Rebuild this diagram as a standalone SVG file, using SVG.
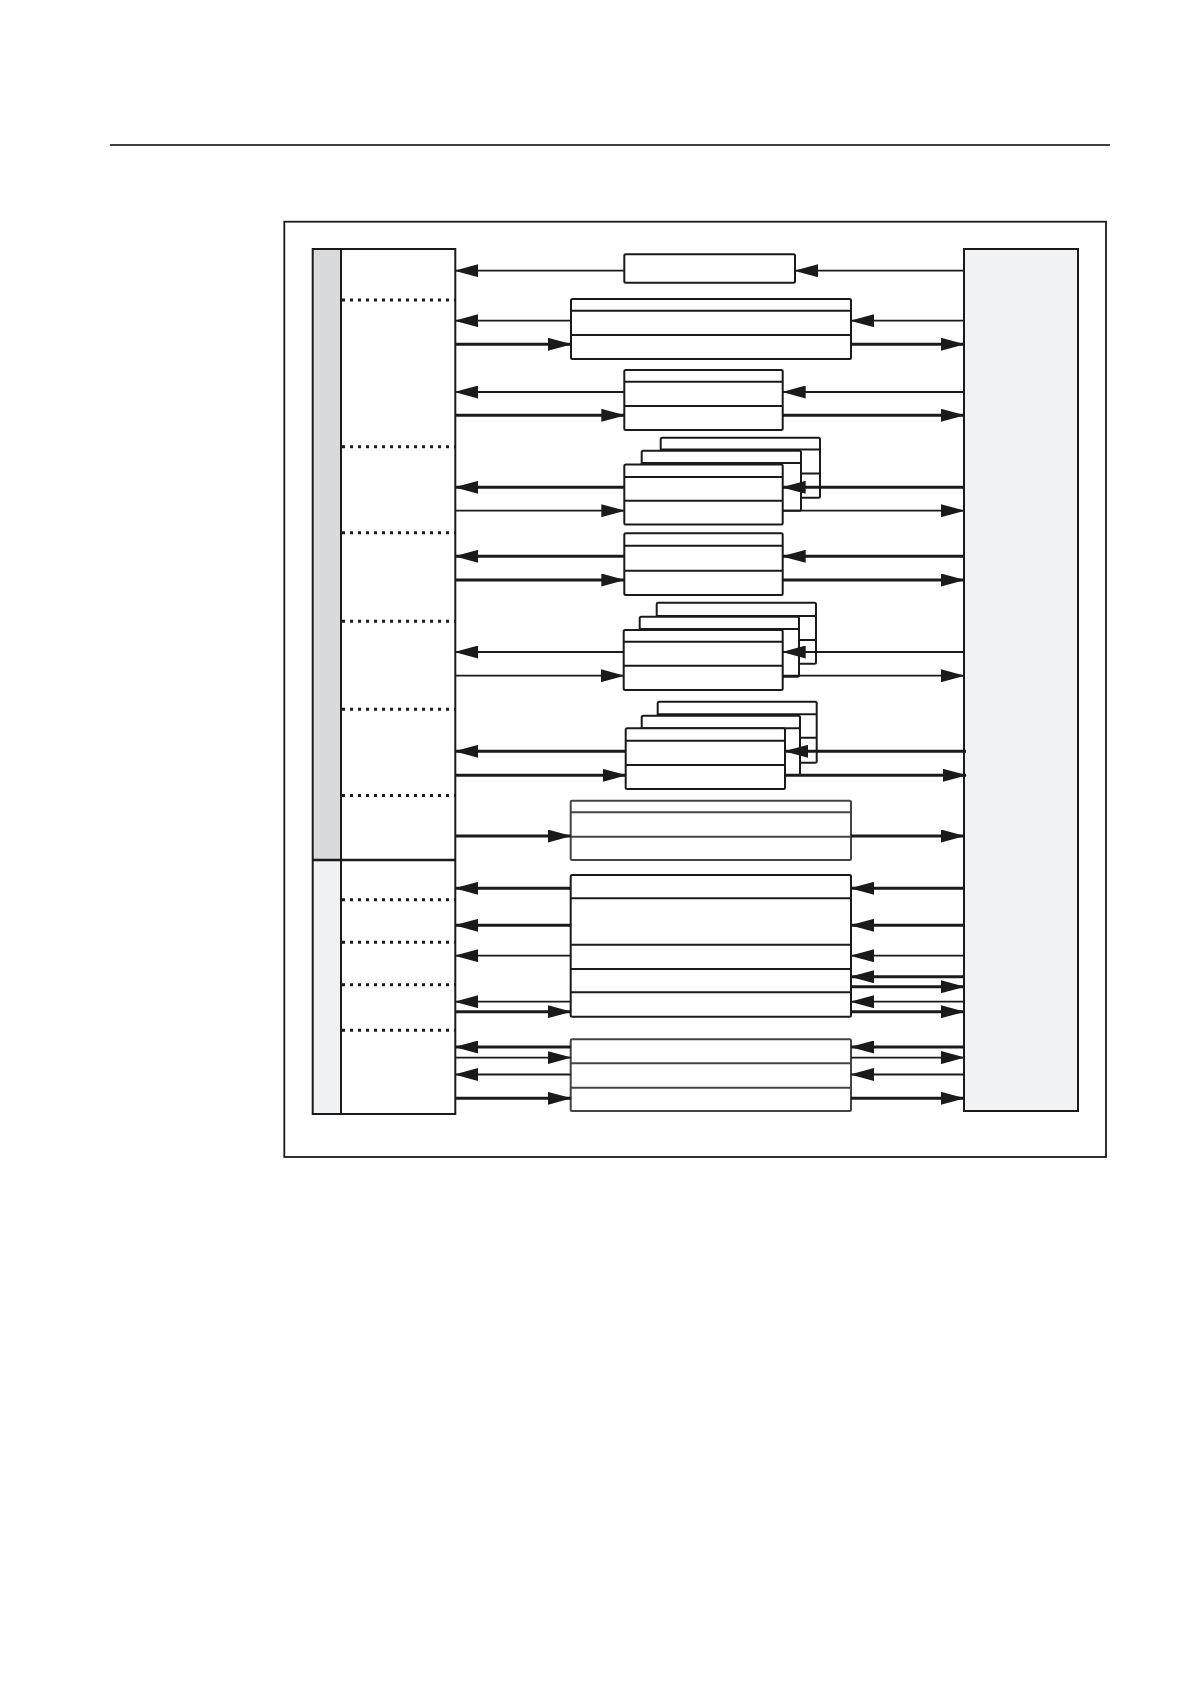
<svg xmlns="http://www.w3.org/2000/svg" width="1190" height="1684" viewBox="0 0 1190 1684">
<defs>
<marker id="ah" markerUnits="userSpaceOnUse" markerWidth="24" markerHeight="13" refX="23" refY="6.5" orient="auto">
<path d="M0,0 L24,6.5 L0,13 z" fill="#1a1a1a"/>
</marker>
</defs>
<style>
.box{fill:#fff;stroke:#1a1a1a;stroke-width:2}
.boxg{fill:#fff;stroke:#444;stroke-width:2}
.rl{stroke:#1a1a1a;stroke-width:2}
.rg{stroke:#444;stroke-width:2}
.dot{stroke:#1a1a1a;stroke-width:3;stroke-dasharray:3 5}
.thin{stroke:#1a1a1a;stroke-width:1.8;marker-end:url(#ah)}
.thick{stroke:#1a1a1a;stroke-width:3;marker-end:url(#ah)}
.frame{fill:none;stroke:#1a1a1a;stroke-width:1.8}
</style>
<rect width="1190" height="1684" fill="#fff"/>
<line x1="110" y1="145" x2="1110" y2="145" stroke="#000" stroke-width="1.6"/>
<rect id="outer" class="frame" x="284.3" y="221.7" width="821.7" height="935.3"/>

<g id="left-column">
<rect x="312.7" y="249" width="28.3" height="611" fill="#d9dadb"/>
<rect x="312.7" y="860" width="28.3" height="254" fill="#eff1f3"/>
<rect x="341" y="249" width="114.3" height="865" fill="#fff"/>
<rect x="312.7" y="249" width="142.6" height="865" fill="none" stroke="#1a1a1a" stroke-width="2"/>
<line x1="341" y1="249" x2="341" y2="1114" stroke="#1a1a1a" stroke-width="2"/>
<line x1="312.7" y1="860" x2="455.3" y2="860" stroke="#1a1a1a" stroke-width="2.4"/>
<line class="dot" x1="342" y1="300" x2="455" y2="300"/>
<line class="dot" x1="342" y1="446.7" x2="455" y2="446.7"/>
<line class="dot" x1="342" y1="532.7" x2="455" y2="532.7"/>
<line class="dot" x1="342" y1="621.3" x2="455" y2="621.3"/>
<line class="dot" x1="342" y1="709.3" x2="455" y2="709.3"/>
<line class="dot" x1="342" y1="795.5" x2="455" y2="795.5"/>
<line class="dot" x1="342" y1="899.7" x2="455" y2="899.7"/>
<line class="dot" x1="342" y1="942.3" x2="455" y2="942.3"/>
<line class="dot" x1="342" y1="984.7" x2="455" y2="984.7"/>
<line class="dot" x1="342" y1="1030.3" x2="455" y2="1030.3"/>
</g>

<g id="right-column">
<rect x="964" y="249" width="114" height="862" fill="#f0f2f4" stroke="#1a1a1a" stroke-width="2"/>
</g>

<g id="box1"><rect class="box" x="624.3" y="254.3" width="170.7" height="28.4" rx="1.5"/></g>

<g id="box2">
<rect class="box" x="571" y="299" width="280" height="60" rx="1.5"/>
<line class="rl" x1="571" y1="310.7" x2="851" y2="310.7"/>
<line class="rl" x1="571" y1="335" x2="851" y2="335"/>
</g>

<g id="box3">
<rect class="box" x="624.3" y="370" width="158.4" height="60" rx="1.5"/>
<line class="rl" x1="624.3" y1="381.7" x2="782.7" y2="381.7"/>
<line class="rl" x1="624.3" y1="406" x2="782.7" y2="406"/>
</g>

<g id="stack1">
<rect class="box" x="660.7" y="437.7" width="159.3" height="60" rx="1.5"/>
<line class="rl" x1="660.7" y1="449.5" x2="820" y2="449.5"/>
<line class="rl" x1="660.7" y1="473.5" x2="820" y2="473.5"/>
<rect class="box" x="641.7" y="450.7" width="159.3" height="60" rx="1.5"/>
<line class="rl" x1="641.7" y1="463" x2="801" y2="463"/>
<rect class="box" x="624.3" y="464.5" width="158.4" height="60" rx="1.5"/>
<line class="rl" x1="624.3" y1="477" x2="782.7" y2="477"/>
<line class="rl" x1="624.3" y1="500.7" x2="782.7" y2="500.7"/>
</g>

<g id="box5">
<rect class="box" x="624.3" y="533.3" width="158.4" height="61.7" rx="1.5"/>
<line class="rl" x1="624.3" y1="545.7" x2="782.7" y2="545.7"/>
<line class="rl" x1="624.3" y1="570.7" x2="782.7" y2="570.7"/>
</g>

<g id="stack2">
<rect class="box" x="656.7" y="602.7" width="159.3" height="61" rx="1.5"/>
<line class="rl" x1="656.7" y1="616" x2="816" y2="616"/>
<line class="rl" x1="656.7" y1="640" x2="816" y2="640"/>
<rect class="box" x="639.7" y="616.7" width="159.3" height="60" rx="1.5"/>
<line class="rl" x1="639.7" y1="629" x2="799" y2="629"/>
<rect class="box" x="623.7" y="630" width="159" height="60" rx="1.5"/>
<line class="rl" x1="623.7" y1="641.7" x2="782.7" y2="641.7"/>
<line class="rl" x1="623.7" y1="665.7" x2="782.7" y2="665.7"/>
</g>

<g id="stack3">
<rect class="box" x="657.7" y="701.7" width="159" height="61" rx="1.5"/>
<line class="rl" x1="657.7" y1="714.3" x2="816.7" y2="714.3"/>
<line class="rl" x1="657.7" y1="737.7" x2="816.7" y2="737.7"/>
<rect class="box" x="641.7" y="715.7" width="158.3" height="59.3" rx="1.5"/>
<line class="rl" x1="641.7" y1="728.3" x2="800" y2="728.3"/>
<rect class="box" x="625.7" y="728.3" width="159.3" height="60.7" rx="1.5"/>
<line class="rl" x1="625.7" y1="740.7" x2="785" y2="740.7"/>
<line class="rl" x1="625.7" y1="765" x2="785" y2="765"/>
</g>

<g id="box8">
<rect class="boxg" x="570.7" y="800.7" width="280.3" height="59.3" rx="1.5"/>
<line class="rg" x1="570.7" y1="812.3" x2="851" y2="812.3"/>
<line class="rg" x1="570.7" y1="836.7" x2="851" y2="836.7"/>
</g>

<g id="box9">
<rect class="box" x="570.7" y="875" width="280.3" height="141.7" rx="1.5"/>
<line class="rl" x1="570.7" y1="898.3" x2="851" y2="898.3"/>
<line class="rl" x1="570.7" y1="944.7" x2="851" y2="944.7"/>
<line class="rl" x1="570.7" y1="969" x2="851" y2="969"/>
<line class="rl" x1="570.7" y1="992.3" x2="851" y2="992.3"/>
</g>

<g id="box10">
<rect class="boxg" x="570.7" y="1039.3" width="280.3" height="71.7" rx="1.5"/>
<line class="rg" x1="570.7" y1="1063.3" x2="851" y2="1063.3"/>
<line class="rg" x1="570.7" y1="1087.7" x2="851" y2="1087.7"/>
</g>

<g id="connectors">
<line class="thin" x1="624.3" y1="270.7" x2="455.3" y2="270.7"/>
<line class="thin" x1="964" y1="270.7" x2="795" y2="270.7"/>
<line class="thin" x1="571" y1="320.7" x2="455.3" y2="320.7"/>
<line class="thin" x1="964" y1="320.7" x2="851" y2="320.7"/>
<line class="thick" x1="455.3" y1="344.3" x2="571" y2="344.3"/>
<line class="thick" x1="851" y1="344.3" x2="964" y2="344.3"/>
<line class="thin" x1="624.3" y1="392" x2="455.3" y2="392"/>
<line class="thin" x1="964" y1="392" x2="782.7" y2="392"/>
<line class="thick" x1="455.3" y1="415.3" x2="624.3" y2="415.3"/>
<line class="thick" x1="782.7" y1="415.3" x2="964" y2="415.3"/>
<line class="thick" x1="624.3" y1="487.3" x2="455.3" y2="487.3"/>
<line class="thick" x1="964" y1="487.3" x2="782.7" y2="487.3"/>
<line class="thin" x1="455.3" y1="510.7" x2="624.3" y2="510.7"/>
<line class="thin" x1="782.7" y1="510.7" x2="964" y2="510.7"/>
<line class="thick" x1="624.3" y1="556.3" x2="455.3" y2="556.3"/>
<line class="thick" x1="964" y1="556.3" x2="782.7" y2="556.3"/>
<line class="thick" x1="455.3" y1="580" x2="624.3" y2="580"/>
<line class="thick" x1="782.7" y1="580" x2="964" y2="580"/>
<line class="thin" x1="623.7" y1="652" x2="455.3" y2="652"/>
<line class="thin" x1="964" y1="652" x2="782.7" y2="652"/>
<line class="thin" x1="455.3" y1="675.7" x2="623.7" y2="675.7"/>
<line class="thin" x1="782.7" y1="675.7" x2="964" y2="675.7"/>
<line class="thick" x1="625.7" y1="751.3" x2="455.3" y2="751.3"/>
<line class="thick" x1="966" y1="751.3" x2="785" y2="751.3"/>
<line class="thick" x1="455.3" y1="775.3" x2="625.7" y2="775.3"/>
<line class="thick" x1="785" y1="775.3" x2="966" y2="775.3"/>
<line class="thick" x1="455.3" y1="836" x2="570.7" y2="836"/>
<line class="thick" x1="851" y1="836" x2="964" y2="836"/>
<line class="thick" x1="570.7" y1="888.3" x2="455.3" y2="888.3"/>
<line class="thick" x1="964" y1="888.3" x2="851" y2="888.3"/>
<line class="thick" x1="570.7" y1="925.3" x2="455.3" y2="925.3"/>
<line class="thick" x1="964" y1="925.3" x2="851" y2="925.3"/>
<line class="thin" x1="570.7" y1="955.7" x2="455.3" y2="955.7"/>
<line class="thin" x1="964" y1="955.7" x2="851" y2="955.7"/>
<line class="thick" x1="964" y1="976.7" x2="851" y2="976.7"/>
<line class="thick" x1="851" y1="986.7" x2="964" y2="986.7"/>
<line class="thin" x1="570.7" y1="1001.7" x2="455.3" y2="1001.7"/>
<line class="thin" x1="964" y1="1001.7" x2="851" y2="1001.7"/>
<line class="thick" x1="455.3" y1="1011.7" x2="570.7" y2="1011.7"/>
<line class="thick" x1="851" y1="1011.7" x2="964" y2="1011.7"/>
<line class="thick" x1="570.7" y1="1047" x2="455.3" y2="1047"/>
<line class="thick" x1="964" y1="1047" x2="851" y2="1047"/>
<line class="thin" x1="455.3" y1="1057.6" x2="570.7" y2="1057.6"/>
<line class="thin" x1="851" y1="1057.6" x2="964" y2="1057.6"/>
<line class="thin" x1="570.7" y1="1074.5" x2="455.3" y2="1074.5"/>
<line class="thin" x1="964" y1="1074.5" x2="851" y2="1074.5"/>
<line class="thick" x1="455.3" y1="1098.3" x2="570.7" y2="1098.3"/>
<line class="thick" x1="851" y1="1098.3" x2="964" y2="1098.3"/>
</g>
</svg>
